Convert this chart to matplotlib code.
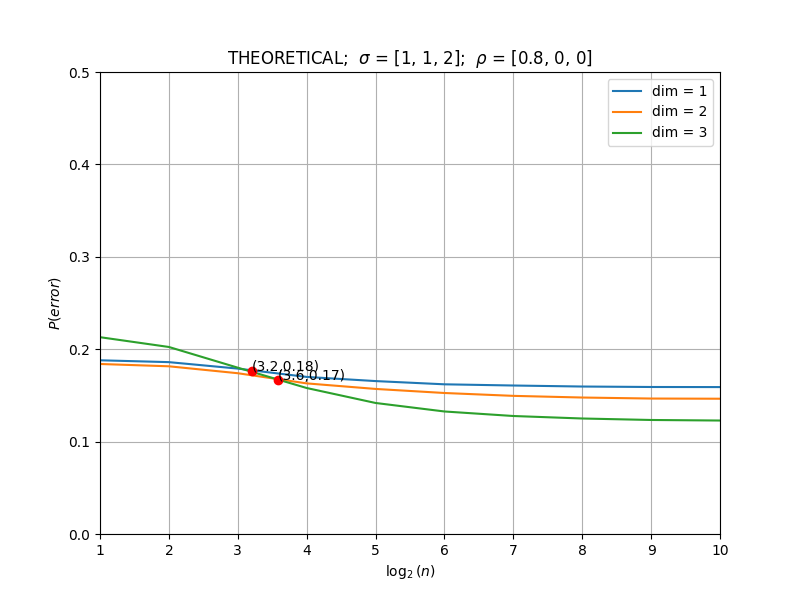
import numpy as np
from matplotlib import pyplot as plt

log_n = [1, 2, 3, 4, 5, 6, 7, 8, 9, 10]
p_dim1 = [0.188, 0.186, 0.179, 0.170, 0.1655, 0.162, 0.1607, 0.1596, 0.1591, 0.159]
p_dim2 = [0.184, 0.1815, 0.174, 0.163, 0.157, 0.1526, 0.1495, 0.1477, 0.1466, 0.1464]
p_dim3 = [0.213, 0.2024, 0.180, 0.158, 0.1418, 0.1326, 0.1277, 0.125, 0.1234, 0.1228]

cross_x = [3.2, 3.58]
cross_y = [0.1765, 0.1667]
cross_labels = ["(3.2,0.18)", "(3.6,0.17)"]

plt.figure(figsize=(8, 6), dpi=100)
plt.plot(log_n, p_dim1, label="dim = 1")
plt.plot(log_n, p_dim2, label="dim = 2")
plt.plot(log_n, p_dim3, label="dim = 3")
plt.plot(cross_x, cross_y, "ro")
for x, y, s in zip(cross_x, cross_y, cross_labels):
    plt.text(x, y, s)
plt.xlim(1, 10)
plt.ylim(0, 0.5)
plt.xlabel(r"$\log_2(n)$")
plt.ylabel(r"$P(error)$")
plt.title(r"THEORETICAL;  $\sigma$ = [1, 1, 2];  $\rho$ = [0.8, 0, 0]")
plt.grid()
plt.legend(loc="upper right")
plt.savefig("out.png")
